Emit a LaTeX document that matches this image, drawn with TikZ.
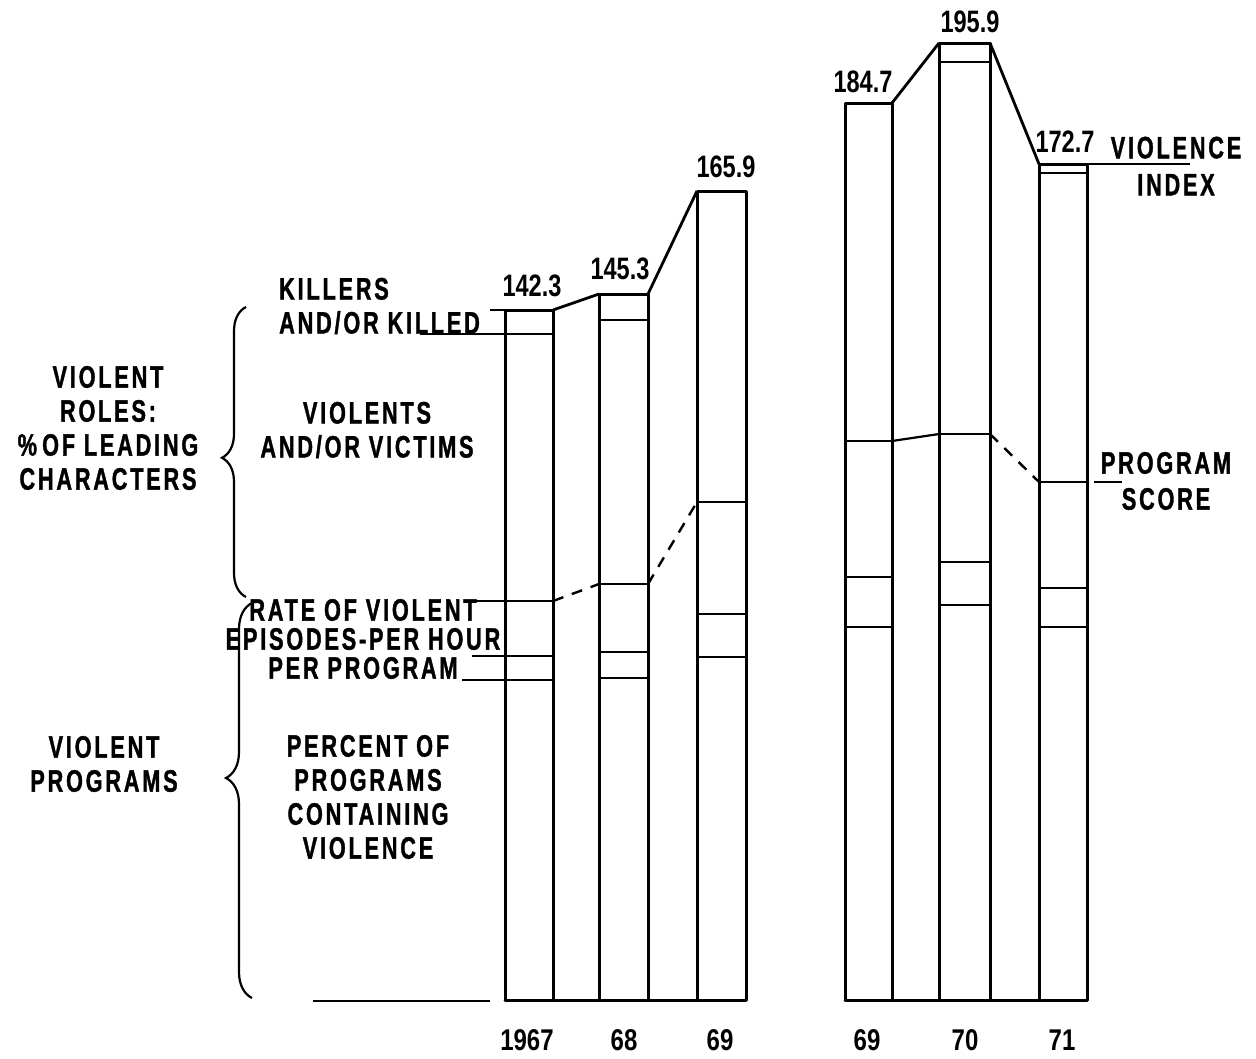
\documentclass[tikz,border=0pt]{standalone}
\usepackage{fontspec}
\usetikzlibrary{decorations.pathreplacing}
\newfontfamily\labfont[FakeStretch=0.70,LetterSpace=9,FakeBold=1.2]{Liberation Sans Bold}
\newfontfamily\numfont[FakeStretch=0.76]{Liberation Sans Bold}
\newfontfamily\yrfont[FakeStretch=0.8]{Liberation Sans Bold}
\tikzset{
  lab/.style={font=\labfont\fontsize{31}{34}\selectfont, align=center, inner sep=0pt},
  val/.style={font=\numfont\fontsize{31}{33}\selectfont, inner sep=0pt},
  yr/.style={font=\yrfont\fontsize{30}{32}\selectfont, inner sep=0pt},
  barline/.style={line width=3pt, line cap=round, line join=round},
  inner/.style={line width=2.4pt},
  idx/.style={line width=2.8pt, line join=round},
  prog/.style={line width=2.2pt},
  progdash/.style={line width=2.4pt, dash pattern=on 11pt off 9pt},
  bracestyle/.style={line width=2.2pt, decorate},
}
\begin{document}
\begin{tikzpicture}[x=1pt,y=-1pt]
\useasboundingbox (0,0) rectangle (1256,1058);

% ---------- bars (left group) ----------
\coordinate (a1tl) at (505,310); \coordinate (a1tr) at (553,310);
\coordinate (a2tl) at (599,294); \coordinate (a2tr) at (648,294);
\coordinate (a3tl) at (697,191); \coordinate (a3tr) at (746,191);
\draw[barline] (505,1000) -- (a1tl) -- (a1tr) -- (553,1000);
\draw[barline] (599,1000) -- (a2tl) -- (a2tr) -- (648,1000);
\draw[barline] (697,1000) -- (a3tl) -- (a3tr) -- (746,1000);
\draw[barline] (505,1000) -- (746,1000);
% ---------- bars (right group) ----------
\coordinate (b1tl) at (845,103); \coordinate (b1tr) at (892,103);
\coordinate (b2tl) at (939,43);  \coordinate (b2tr) at (990,43);
\coordinate (b3tl) at (1039,164); \coordinate (b3tr) at (1087,164);
\draw[barline] (845,1000) -- (b1tl) -- (b1tr) -- (892,1000);
\draw[barline] (939,1000) -- (b2tl) -- (b2tr) -- (990,1000);
\draw[barline] (1039,1000) -- (b3tl) -- (b3tr) -- (1087,1000);
\draw[barline] (845,1000) -- (1087,1000);
% separate baseline on the left
\draw[inner] (313,1001) -- (490,1001);

% ---------- violence index connectors ----------
\coordinate (idxend) at (1190,164);
\draw[idx] (a1tr) -- (a2tl);
\draw[idx] (a2tr) -- (a3tl);
\draw[idx] (b1tr) -- (b2tl);
\draw[idx] (b2tr) -- (b3tl);
\draw[idx] (b3tr) -- (idxend);

% ---------- inner lines ----------
% 1967
\draw[inner] (490,310) -- (a1tl);
\draw[inner] (420,334) -- (553,334);
\draw[inner] (468,601) -- (553,601);
\draw[inner] (472,656) -- (553,656);
\draw[inner] (462,680) -- (553,680);
% 68
\draw[inner] (599,320) -- (648,320);
\draw[inner] (599,584) -- (648,584);
\draw[inner] (599,652) -- (648,652);
\draw[inner] (599,678) -- (648,678);
% 69
\draw[inner] (697,502) -- (746,502);
\draw[inner] (697,614) -- (746,614);
\draw[inner] (697,657) -- (746,657);
% 69 (right)
\draw[inner] (845,441) -- (892,441);
\draw[inner] (845,577) -- (892,577);
\draw[inner] (845,627) -- (892,627);
% 70
\draw[inner] (939,62) -- (990,62);
\draw[inner] (939,434) -- (990,434);
\draw[inner] (939,562) -- (990,562);
\draw[inner] (939,605) -- (990,605);
% 71
\draw[inner] (1039,173) -- (1087,173);
\draw[inner] (1039,482) -- (1087,482);
\draw[inner] (1039,588) -- (1087,588);
\draw[inner] (1039,627) -- (1087,627);

% ---------- program score connectors ----------
\coordinate (p1) at (553,601); \coordinate (p2a) at (599,584);
\coordinate (p2b) at (648,584); \coordinate (p3) at (697,502);
\coordinate (q1) at (892,441); \coordinate (q2a) at (939,434);
\coordinate (q2b) at (990,434); \coordinate (q3) at (1039,482);
\coordinate (ps1) at (1094,482); \coordinate (ps2) at (1122,482);
\draw[progdash] (p1) -- (p2a);
\draw[progdash] (p2b) -- (p3);
\draw[prog] (q1) .. controls (915,437) .. (q2a);
\draw[progdash] (q2b) -- (q3);
\draw[prog] (ps1) -- (ps2);

% ---------- braces ----------
\draw[bracestyle, decoration={brace, amplitude=24pt, aspect=0.48}] (246,597) -- (246,307);
\draw[bracestyle, decoration={brace, amplitude=26pt, aspect=0.557}] (252,998) -- (252,603);

% ---------- value labels ----------
\node[val] (v1) at (532,286) {142.3};
\node[val] (v2) at (620,269) {145.3};
\node[val] (v3) at (726,167) {165.9};
\node[val] (v4) at (863,82) {184.7};
\node[val] (v5) at (970,22) {195.9};
\node[val] (v6) at (1065,142) {172.7};

% ---------- year labels ----------
\node[yr] (y1) at (527,1040) {1967};
\node[yr] (y2) at (624,1040) {68};
\node[yr] (y3) at (720,1040) {69};
\node[yr] (y4) at (867,1040) {69};
\node[yr] (y5) at (965,1040) {70};
\node[yr] (y6) at (1062,1040) {71};

% ---------- text labels ----------
\node[lab] (vi) at (1176,166) {VIOLENCE\\[3pt]INDEX};
\node[lab] (ps) at (1166,481) {PROGRAM\\[2pt]SCORE};
\node[lab] (roles) at (108,428) {VIOLENT\\ROLES:\\\%\,OF LEADING\\CHARACTERS};
\node[lab] (vprog) at (104,764) {VIOLENT\\PROGRAMS};
\node[lab, align=left, anchor=west] (kill) at (279,306) {KILLERS\\AND/OR KILLED};
\node[lab] (vv) at (367,430) {VIOLENTS\\AND/OR VICTIMS};
\node[lab, font=\labfont\fontsize{31}{29}\selectfont] (rate) at (363,639) {RATE OF VIOLENT\\EPISODES-PER HOUR\\PER PROGRAM};
\node[lab] (pct) at (368,797) {PERCENT OF\\PROGRAMS\\CONTAINING\\VIOLENCE};
\end{tikzpicture}
\end{document}
